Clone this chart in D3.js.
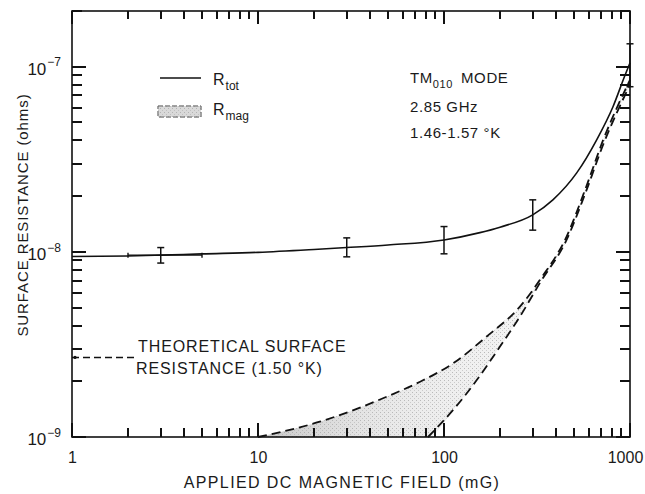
<!DOCTYPE html>
<html lang="en">
<head>
<meta charset="UTF-8">
<title>Surface resistance vs applied DC magnetic field</title>
<script src="https://d3js.org/d3.v7.min.js"></script>
<style>
  body { margin: 0; padding: 0; background: #fff; }
  svg text { font-family: "Liberation Sans", Arial, sans-serif; fill: #1a1a1a; }
</style>
</head>
<body>
<div id="chart"></div>
<script>
// measured total surface resistance (solid curve)
const rtotField = [1, 2, 3, 5, 10, 20, 30, 50, 100, 156, 200, 300, 385, 517, 662, 810, 940, 1000];
const rtotValue = [9.44e-9, 9.5e-9, 9.6e-9, 9.75e-9, 9.94e-9, 1.03e-8, 1.055e-8, 1.09e-8, 1.16e-8,
                   1.27e-8, 1.36e-8, 1.585e-8, 1.91e-8, 2.67e-8, 4.03e-8, 6.08e-8, 9.0e-8, 1.05e-7];

// error bars
const errField = [3, 30, 100, 300, 1000];
const errLow   = [8.7e-9, 9.4e-9, 9.76e-9, 1.31e-8, 7.8e-8];
const errHigh  = [1.055e-8, 1.19e-8, 1.37e-8, 1.91e-8, 1.33e-7];
const hErrField = [2, 5];      // horizontal error bar at 3 mG
const hErrValue = 9.6e-9;

// R_mag band: upper and lower dashed bounds
const upperField = [10, 21.5, 49.2, 77.5, 112, 169, 256, 328, 456, 573, 718, 1000];
const upperValue = [1e-9, 1.21e-9, 1.65e-9, 2.03e-9, 2.5e-9, 3.48e-9, 5.06e-9, 7.06e-9, 1.21e-8, 2.16e-8, 4.03e-8, 8.5e-8];
const lowerField = [82, 112, 150, 200, 256, 328, 456, 573, 718, 1000];
const lowerValue = [1e-9, 1.4e-9, 2.03e-9, 3.08e-9, 4.47e-9, 6.8e-9, 1.16e-8, 2.05e-8, 3.8e-8, 8.0e-8];

// theoretical surface resistance (1.50 K)
const theoryField = [1, 2.26];
const theoryValue = 2.69e-9;

const xMajor = [1, 10, 100, 1000];
const xLabels = ["1", "10", "100", "1000"];
const yMajor = [1e-9, 1e-8, 1e-7];
const yExp = ["9", "8", "7"];

const W = 645, H = 494;
const pLeft = 72, pRight = 630, pTop = 11, pBottom = 437;
const ink = "#111";

const svg = d3.select("#chart").append("svg")
  .attr("width", W).attr("height", H);

const x = d3.scaleLog().domain([1, 1000]).range([pLeft, pRight]);
const y = d3.scaleLog().domain([1e-9, 2e-7]).range([pBottom, pTop]);

const xMinor = [];
[1, 10, 100].forEach(d => { for (let k = 2; k <= 9; k++) xMinor.push(d * k); });
const yMinor = [];
[1e-9, 1e-8].forEach(d => { for (let k = 2; k <= 9; k++) yMinor.push(d * k); });
yMinor.push(2e-7);

// stipple patterns
const defs = svg.append("defs");
const pat = defs.append("pattern").attr("id", "stipple")
  .attr("width", 4).attr("height", 4).attr("patternUnits", "userSpaceOnUse");
pat.append("rect").attr("width", 4).attr("height", 4).attr("fill", "#f3f3f3");
pat.append("rect").attr("x", 0).attr("y", 0).attr("width", 1).attr("height", 1).attr("fill", "#b8b8b8");
pat.append("rect").attr("x", 2).attr("y", 2).attr("width", 1).attr("height", 1).attr("fill", "#cccccc");
const grad = defs.append("linearGradient").attr("id", "shadeGrad")
  .attr("gradientUnits", "userSpaceOnUse")
  .attr("x1", x(10)).attr("x2", x(300)).attr("y1", 0).attr("y2", 0);
grad.append("stop").attr("offset", "0%").attr("stop-color", "#999").attr("stop-opacity", 0.5);
grad.append("stop").attr("offset", "45%").attr("stop-color", "#bbb").attr("stop-opacity", 0.2);
grad.append("stop").attr("offset", "100%").attr("stop-color", "#ddd").attr("stop-opacity", 0);

// shaded R_mag band
const lowerInterp = d3.scaleLinear().domain(lowerField.map(Math.log)).range(lowerValue.map(Math.log));
const lowerAt = f => f <= lowerField[0] ? 1e-9 : Math.exp(lowerInterp(Math.log(f)));
const bandFields = Array.from(new Set(upperField.concat(lowerField))).sort((a, b) => a - b);
const upperInterp = d3.scaleLinear().domain(upperField.map(Math.log)).range(upperValue.map(Math.log));
const band = bandFields.map(f => ({ f, hi: Math.exp(upperInterp(Math.log(f))), lo: lowerAt(f) }));
const area = d3.area().x(d => x(d.f)).y0(d => y(d.lo)).y1(d => y(d.hi)).curve(d3.curveMonotoneX);
svg.append("path").datum(band).attr("d", area).attr("fill", "url(#stipple)");
svg.append("path").datum(band).attr("d", area).attr("fill", "url(#shadeGrad)");

// frame
svg.append("rect").attr("x", pLeft).attr("y", pTop)
  .attr("width", pRight - pLeft).attr("height", pBottom - pTop)
  .attr("fill", "none").attr("stroke", ink).attr("stroke-width", 1.6);

// tick labels via axes
const xAx = svg.append("g")
  .attr("transform", `translate(0,${pBottom})`)
  .call(d3.axisBottom(x).tickValues(xMajor).tickSize(0)
    .tickPadding(15).tickFormat((d, i) => xLabels[i]));
xAx.select(".domain").remove();
xAx.selectAll("text").attr("font-size", 16).attr("fill", ink)
  .attr("dx", (d, i) => i === 3 ? -5 : 0);

const yAx = svg.append("g")
  .attr("transform", `translate(${pLeft},0)`)
  .call(d3.axisLeft(y).tickValues(yMajor).tickSize(0)
    .tickPadding(11).tickFormat(() => ""));
yAx.select(".domain").remove();
yAx.selectAll("text").each(function (d, i) {
  const t = d3.select(this).attr("font-size", 17).attr("fill", ink).attr("dy", "0.45em");
  t.append("tspan").text("10");
  t.append("tspan").attr("dy", "-0.7em").attr("dx", "1").attr("font-size", 12).text("\u2212" + yExp[i]);
});

// dashed R_mag bounds
const line = d3.line().x(d => x(d[0])).y(d => y(d[1])).curve(d3.curveMonotoneX);
svg.append("path").datum(d3.zip(upperField, upperValue)).attr("d", line)
  .attr("fill", "none").attr("stroke", ink).attr("stroke-width", 1.8).attr("stroke-dasharray", "9,5");
svg.append("path").datum(d3.zip(lowerField, lowerValue)).attr("d", line)
  .attr("fill", "none").attr("stroke", ink).attr("stroke-width", 1.8).attr("stroke-dasharray", "9,5");

// R_tot curve
svg.append("path").datum(d3.zip(rtotField, rtotValue)).attr("d", line)
  .attr("fill", "none").attr("stroke", ink).attr("stroke-width", 1.6);

// error bars
const cap = 3.5;
errField.forEach((f, i) => {
  const g = svg.append("g").attr("stroke", ink).attr("stroke-width", 1.5);
  g.append("line").attr("x1", x(f)).attr("x2", x(f)).attr("y1", y(errLow[i])).attr("y2", y(errHigh[i]));
  g.append("line").attr("x1", x(f) - cap).attr("x2", x(f) + cap).attr("y1", y(errLow[i])).attr("y2", y(errLow[i]));
  g.append("line").attr("x1", x(f) - cap).attr("x2", x(f) + cap).attr("y1", y(errHigh[i])).attr("y2", y(errHigh[i]));
});
const hg = svg.append("g").attr("stroke", ink).attr("stroke-width", 1.4);
hg.append("line").attr("x1", x(hErrField[0])).attr("x2", x(hErrField[1]))
  .attr("y1", y(hErrValue)).attr("y2", y(hErrValue));
hErrField.forEach(f => hg.append("line").attr("x1", x(f)).attr("x2", x(f))
  .attr("y1", y(hErrValue) - 2.5).attr("y2", y(hErrValue) + 2.5));

// theoretical surface resistance
svg.append("line").attr("x1", x(theoryField[0])).attr("x2", x(theoryField[1]))
  .attr("y1", y(theoryValue)).attr("y2", y(theoryValue))
  .attr("stroke", ink).attr("stroke-width", 1.5).attr("stroke-dasharray", "7,4");
svg.append("circle").attr("cx", x(theoryField[0]) + 3).attr("cy", y(theoryValue)).attr("r", 1.6).attr("fill", ink);
svg.append("text").attr("x", 138).attr("y", 352).attr("font-size", 16).attr("letter-spacing", 0.9)
  .text("THEORETICAL SURFACE");
svg.append("text").attr("x", 136).attr("y", 374).attr("font-size", 16).attr("letter-spacing", 0.9)
  .text("RESISTANCE (1.50 \u00b0K)");

// legend
svg.append("line").attr("x1", 160).attr("x2", 201).attr("y1", 78).attr("y2", 78)
  .attr("stroke", ink).attr("stroke-width", 1.6);
const lt1 = svg.append("text").attr("x", 213).attr("y", 85).attr("font-size", 16);
lt1.append("tspan").text("R");
lt1.append("tspan").attr("dy", 5).attr("dx", 1).attr("font-size", 12).text("tot");
svg.append("rect").attr("x", 158).attr("y", 106).attr("width", 43).attr("height", 11)
  .attr("fill", "url(#stipple)").attr("stroke", "#444").attr("stroke-width", 1).attr("stroke-dasharray", "5,2");
svg.append("rect").attr("x", 158).attr("y", 106).attr("width", 43).attr("height", 11)
  .attr("fill", "#aaa").attr("fill-opacity", 0.35);
const lt2 = svg.append("text").attr("x", 213).attr("y", 115).attr("font-size", 16);
lt2.append("tspan").text("R");
lt2.append("tspan").attr("dy", 5).attr("dx", 1).attr("font-size", 12).text("mag");

// conditions
const c1 = svg.append("text").attr("x", 410).attr("y", 83).attr("font-size", 15).attr("letter-spacing", 0.6);
c1.append("tspan").text("TM");
c1.append("tspan").attr("dy", 5).attr("font-size", 11).text("010");
c1.append("tspan").attr("dy", -5).attr("dx", 8).text("MODE");
svg.append("text").attr("x", 410).attr("y", 112).attr("font-size", 15).attr("letter-spacing", 0.6).text("2.85 GHz");
svg.append("text").attr("x", 410).attr("y", 138).attr("font-size", 15).attr("letter-spacing", 0.6).text("1.46-1.57 \u00b0K");

// axis titles
svg.append("text").attr("x", 342).attr("y", 488).attr("text-anchor", "middle")
  .attr("font-size", 16).attr("letter-spacing", 1.4).text("APPLIED DC MAGNETIC FIELD (mG)");
svg.append("text").attr("transform", "translate(28,215) rotate(-90)").attr("text-anchor", "middle")
  .attr("font-size", 15).attr("letter-spacing", 0.9).text("SURFACE RESISTANCE (ohms)");

// inward ticks on all four sides, drawn last so nothing covers them
const tickLayer = svg.append("g").attr("stroke", ink).attr("stroke-width", 2)
  .attr("shape-rendering", "crispEdges");
function xTicks(values, yBase, len) {
  tickLayer.append("g").selectAll("line").data(values).join("line")
    .attr("x1", d => x(d)).attr("x2", d => x(d))
    .attr("y1", yBase).attr("y2", yBase + len);
}
function yTicks(values, xBase, len) {
  tickLayer.append("g").selectAll("line").data(values).join("line")
    .attr("y1", d => y(d)).attr("y2", d => y(d))
    .attr("x1", xBase).attr("x2", xBase + len);
}
xTicks(xMinor, pBottom, -9);
xTicks(xMajor, pBottom, -14);
xTicks(xMinor, pTop, 8);
xTicks(xMajor, pTop, 13);
yTicks(yMinor, pLeft, 10);
yTicks(yMajor, pLeft, 14);
yTicks(yMinor, pRight, -10);
yTicks(yMajor, pRight, -14);
</script>
</body>
</html>
